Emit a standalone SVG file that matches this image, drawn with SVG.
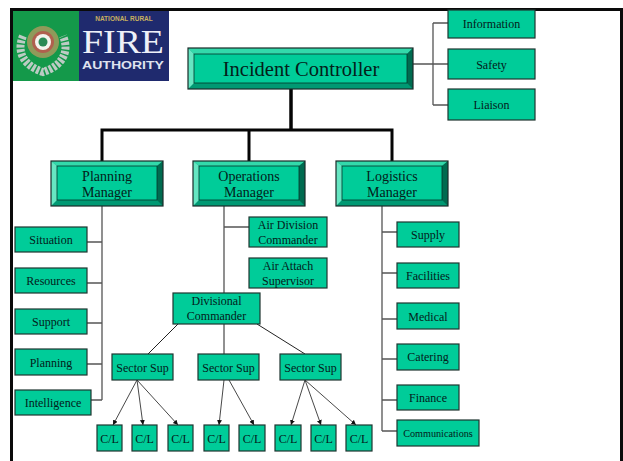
<svg xmlns="http://www.w3.org/2000/svg" width="623" height="461" viewBox="0 0 623 461">
<style>
text{font-family:"Liberation Serif","Times New Roman",serif;fill:#04201a;text-anchor:middle}
.box{fill:#00cc99;stroke:#1f3530;stroke-width:1.2}
.s{font-size:12px}
.m{font-size:14px}
.thick{fill:none;stroke:#050505;stroke-width:3}
.thin{fill:none;stroke:#555;stroke-width:1.3}
.arrow{fill:none;stroke:#333;stroke-width:.9;marker-end:url(#ah)}
.t{fill:#33d9ab}.l{fill:#66e6c2}.r{fill:#006b50}.b{fill:#009973}
.inner{fill:#00cc99;stroke:#04352a;stroke-width:.8}
.edge{fill:none;stroke:#1a2b28;stroke-width:1.2}
</style>
<defs>
<marker id="ah" markerWidth="6" markerHeight="6" refX="5" refY="2.500" orient="auto" markerUnits="userSpaceOnUse"><path d="M0 0L5 2.500L0 5z" fill="#111"/></marker>
</defs>
<rect width="623" height="461" fill="#fff"/>
<path d="M11.500 461V9.500H621.500V461" fill="none" stroke="#0a0a0a" stroke-width="3"/>
<g id="logo">
<rect x="13" y="11" width="66" height="70" fill="#14994a"/>
<rect x="79" y="11" width="90" height="70" fill="#1f2a6e"/>
<path d="M23 36C16 52 24 66 43 72C62 66 70 52 63 36" fill="none" stroke="#bccbc4" stroke-width="8" stroke-dasharray="3 1.500"/>
<circle cx="43" cy="42" r="16" fill="#8f9a5a"/>
<circle cx="43" cy="42" r="11" fill="#b0604e"/>
<circle cx="43" cy="42" r="8" fill="#f4f4ee"/>
<circle cx="43" cy="42" r="4.500" fill="#2b8a55"/>
<text x="124" y="20.500" style="font-family:'Liberation Sans',sans-serif;font-size:6.500px;font-weight:bold;fill:#c8b060">NATIONAL RURAL</text>
<text x="123" y="53" style="font-size:33.500px;fill:#eef0f8" textLength="82" lengthAdjust="spacingAndGlyphs">FIRE</text>
<text x="123" y="69" style="font-family:'Liberation Sans',sans-serif;font-size:10px;font-weight:bold;fill:#dfe2ee" textLength="82" lengthAdjust="spacingAndGlyphs">AUTHORITY</text>
</g>
<g id="connectors">
<path class="thick" d="M102 161V130H392V161M249 130V161"/>
<path class="thick" d="M291 89V130" style="stroke-width:3.500"/>
<path class="thin" d="M413 64H448M433 23V105M433 23H448M433 105H448"/>
<path class="thin" d="M102 206V400M87 242H102M87 283H102M87 323H102M87 364H102M91 400H102"/>
<path class="thin" d="M224 206V293M224 227H249"/>
<path class="thin" d="M382 206V431M382 232H397M382 273H397M382 319H397M382 359H397M382 400H397M382 431H397"/>
<path d="M178 324L148 354M224 324V354M257 324L305 354" fill="none" stroke="#222" stroke-width="1"/>
<path class="arrow" d="M137 380L113 425"/>
<path class="arrow" d="M137 380L143 425"/>
<path class="arrow" d="M137 380L178 425"/>
<path class="arrow" d="M224 380L219 425"/>
<path class="arrow" d="M229 380L254 425"/>
<path class="arrow" d="M305 380L291 425"/>
<path class="arrow" d="M305 380L321 425"/>
<path class="arrow" d="M305 380L356 425"/>
</g>
<g id="incident-controller">
<rect x="188" y="48" width="225" height="41" class="b"/>
<path class="t" d="M188 48H413L407 54H194z"/><path class="l" d="M188 48L194 54V83L188 89z"/><path class="r" d="M413 48L407 54V83L413 89z"/>
<rect x="194" y="54" width="213" height="29" class="inner"/>
<rect x="188" y="48" width="225" height="41" class="edge"/>
<text x="301" y="76" style="font-size:20.500px">Incident Controller</text>
</g>
<g id="planning-manager">
<rect x="51" y="161" width="112" height="45" class="b"/>
<path class="t" d="M51 161H163L157 166H57z"/><path class="l" d="M51 161L57 166V200L51 206z"/><path class="r" d="M163 161L157 166V200L163 206z"/>
<rect x="57" y="166" width="100" height="34" class="inner"/>
<rect x="51" y="161" width="112" height="45" class="edge"/>
<text x="107" y="181" class="m">Planning</text><text x="107" y="197" class="m">Manager</text>
</g>
<g id="operations-manager">
<rect x="193" y="161" width="112" height="45" class="b"/>
<path class="t" d="M193 161H305L299 166H199z"/><path class="l" d="M193 161L199 166V200L193 206z"/><path class="r" d="M305 161L299 166V200L305 206z"/>
<rect x="199" y="166" width="100" height="34" class="inner"/>
<rect x="193" y="161" width="112" height="45" class="edge"/>
<text x="249" y="181" class="m">Operations</text><text x="249" y="197" class="m">Manager</text>
</g>
<g id="logistics-manager">
<rect x="336" y="161" width="112" height="45" class="b"/>
<path class="t" d="M336 161H448L442 166H342z"/><path class="l" d="M336 161L342 166V200L336 206z"/><path class="r" d="M448 161L442 166V200L448 206z"/>
<rect x="342" y="166" width="100" height="34" class="inner"/>
<rect x="336" y="161" width="112" height="45" class="edge"/>
<text x="392" y="181" class="m">Logistics</text><text x="392" y="197" class="m">Manager</text>
</g>
<g id="information"><rect class="box" x="448" y="10" width="87" height="28"/><text class="s" x="491.500" y="28">Information</text></g>
<g id="safety"><rect class="box" x="448" y="49" width="87" height="30"/><text class="s" x="491.500" y="69">Safety</text></g>
<g id="liaison"><rect class="box" x="448" y="89" width="87" height="31"/><text class="s" x="491.500" y="109">Liaison</text></g>
<g id="situation"><rect class="box" x="15" y="227" width="72" height="25"/><text class="s" x="51" y="244">Situation</text></g>
<g id="resources"><rect class="box" x="15" y="268" width="72" height="25"/><text class="s" x="51" y="285">Resources</text></g>
<g id="support"><rect class="box" x="15" y="309" width="72" height="25"/><text class="s" x="51" y="326">Support</text></g>
<g id="planning"><rect class="box" x="15" y="349" width="72" height="26"/><text class="s" x="51" y="367">Planning</text></g>
<g id="intelligence"><rect class="box" x="15" y="390" width="76" height="25"/><text class="s" x="53" y="407">Intelligence</text></g>
<g id="air-division"><rect class="box" x="249" y="217" width="78" height="30"/><text class="s" x="288" y="229">Air Division</text><text class="s" x="288" y="244">Commander</text></g>
<g id="air-attach"><rect class="box" x="249" y="258" width="78" height="30"/><text class="s" x="288" y="270">Air Attach</text><text class="s" x="288" y="285">Supervisor</text></g>
<g id="divisional"><rect class="box" x="173" y="293" width="87" height="31"/><text class="s" x="216.500" y="305">Divisional</text><text class="s" x="216.500" y="320">Commander</text></g>
<g id="sector-1"><rect class="box" x="112" y="354" width="61" height="26"/><text class="s" x="142.500" y="372">Sector Sup</text></g>
<g id="sector-2"><rect class="box" x="198" y="354" width="61" height="26"/><text class="s" x="228.500" y="372">Sector Sup</text></g>
<g id="sector-3"><rect class="box" x="280" y="354" width="61" height="26"/><text class="s" x="310.500" y="372">Sector Sup</text></g>
<g id="cl-1"><rect class="box" x="97" y="425" width="25" height="26"/><text class="s" x="109.500" y="443">C/L</text></g>
<g id="cl-2"><rect class="box" x="132" y="425" width="25" height="26"/><text class="s" x="144.500" y="443">C/L</text></g>
<g id="cl-3"><rect class="box" x="168" y="425" width="25" height="26"/><text class="s" x="180.500" y="443">C/L</text></g>
<g id="cl-4"><rect class="box" x="204" y="425" width="25" height="26"/><text class="s" x="216.500" y="443">C/L</text></g>
<g id="cl-5"><rect class="box" x="239" y="425" width="26" height="26"/><text class="s" x="252" y="443">C/L</text></g>
<g id="cl-6"><rect class="box" x="275" y="425" width="26" height="26"/><text class="s" x="288" y="443">C/L</text></g>
<g id="cl-7"><rect class="box" x="311" y="425" width="25" height="26"/><text class="s" x="323.500" y="443">C/L</text></g>
<g id="cl-8"><rect class="box" x="346" y="425" width="26" height="26"/><text class="s" x="359" y="443">C/L</text></g>
<g id="supply"><rect class="box" x="397" y="222" width="62" height="25"/><text class="s" x="428" y="239">Supply</text></g>
<g id="facilities"><rect class="box" x="397" y="263" width="62" height="25"/><text class="s" x="428" y="280">Facilities</text></g>
<g id="medical"><rect class="box" x="397" y="303" width="62" height="26"/><text class="s" x="428" y="321">Medical</text></g>
<g id="catering"><rect class="box" x="397" y="344" width="62" height="26"/><text class="s" x="428" y="361">Catering</text></g>
<g id="finance"><rect class="box" x="397" y="385" width="62" height="25"/><text class="s" x="428" y="402">Finance</text></g>
<g id="communications"><rect class="box" x="397" y="420" width="82" height="26"/><text x="438" y="437" style="font-size:10.200px">Communications</text></g>
</svg>
